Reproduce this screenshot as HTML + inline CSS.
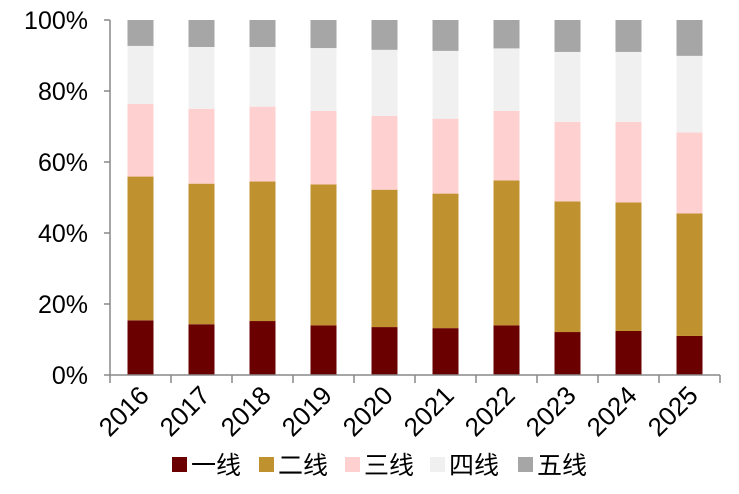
<!DOCTYPE html>
<html><head><meta charset="utf-8"><style>
body{margin:0;background:#fff;}
svg text{font-family:"Liberation Sans","Noto Sans CJK SC",sans-serif;fill:#000;}
</style></head><body>
<svg id="c" width="739" height="489"></svg>
<script>
const years=["2016","2017","2018","2019","2020","2021","2022","2023","2024","2025"];
const tier1=[15.4,14.3,15.2,14.0,13.5,13.2,14.0,12.1,12.4,11.0];
const tier2=[40.5,39.6,39.3,39.7,38.7,37.9,40.8,36.8,36.2,34.5];
const tier3=[20.5,21.1,21.1,20.7,20.8,21.1,19.6,22.4,22.7,22.8];
const tier4=[16.3,17.4,16.8,17.7,18.6,19.1,17.6,19.7,19.7,21.6];
const tier5=[7.3,7.6,7.6,7.9,8.4,8.7,8.0,9.0,9.0,10.1];
const seriesNames=["一线","二线","三线","四线","五线"];
const yTicks=[0,20,40,60,80,100];
const colors=["#6b0000","#c0922f","#ffd0d0","#f0f0f0","#a6a6a6"];
const series=[tier1,tier2,tier3,tier4,tier5];
const NS="http://www.w3.org/2000/svg",svg=document.getElementById('c');
const x0=110,x1=720,y0=375,y1=20,step=(x1-x0)/years.length,bw=26;
const Y=v=>y0-(v/100)*(y0-y1);
const X=i=>x0+step*(i+0.5);
function el(t,a,p){const e=document.createElementNS(NS,t);for(const k in a)e.setAttribute(k,a[k]);(p||svg).appendChild(e);return e;}
years.forEach((yr,i)=>{let acc=0;
 series.forEach((s,j)=>{const r=el('rect',{x:X(i)-bw/2,y:Y(acc+s[i]),width:bw,height:Y(acc)-Y(acc+s[i]),fill:colors[j]});
  
  
  acc+=s[i];});
 const t=el('text',{x:0,y:0,'font-size':26,'text-anchor':'end',transform:`translate(${X(i)+10},${y0+22}) rotate(-45)`});
 t.textContent=yr;
 
 
});
const ax=el('path',{d:`M${x0} ${y1}V${y0}H${x1}`,stroke:'#888',fill:'none','stroke-width':1.5});


for(let i=0;i<=years.length;i++)el('line',{x1:x0+step*i,x2:x0+step*i,y1:y0,y2:y0+8,stroke:'#888','stroke-width':1.5});
yTicks.forEach(v=>{el('line',{x1:x0-6,x2:x0,y1:Y(v),y2:Y(v),stroke:'#888','stroke-width':1.5});
 const t=el('text',{x:88,y:Y(v)+9,'font-size':25,'text-anchor':'end'});t.textContent=v+'%';
 
 });
const lx=[172,259,345,430,518];
seriesNames.forEach((n,j)=>{const g=el('g',{});
 
 
 el('rect',{x:lx[j],y:457,width:15,height:15,fill:colors[j]},g);
 const t=el('text',{x:lx[j]+19,y:474,'font-size':25},g);t.textContent=n;});
</script>
</body></html>
